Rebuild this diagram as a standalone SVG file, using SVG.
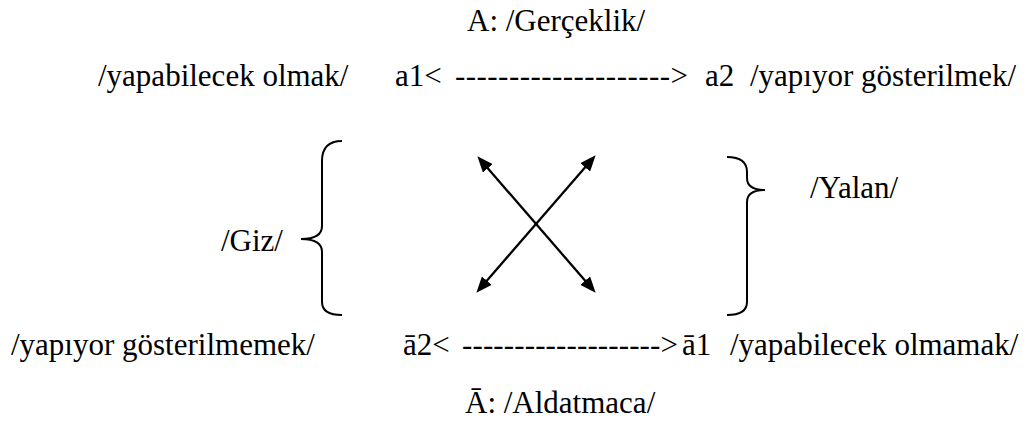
<svg xmlns="http://www.w3.org/2000/svg" width="1030" height="425" viewBox="0 0 1030 425">
<style>
.t{font-family:'Liberation Serif','Times New Roman',serif;font-size:31px;fill:#000}
.br{fill:none;stroke:#000;stroke-width:2}
.ar{fill:none;stroke:#000;stroke-width:2.3;marker-start:url(#ah);marker-end:url(#ah)}
</style>
<defs>
<marker id="ah" viewBox="0 0 16 13" refX="8" refY="6.5" markerWidth="16" markerHeight="13" markerUnits="userSpaceOnUse" orient="auto-start-reverse">
<path d="M0,0 L16,6.5 L0,13 z" fill="#000"/>
</marker>
</defs>
<rect width="1030" height="425" fill="#fff"/>
<g id="top-title"><text class="t" x="467" y="31">A: /Gerçeklik/</text></g>
<g id="a1-label"><text class="t" x="98" y="86">/yapabilecek olmak/</text></g>
<g id="a1"><text class="t" x="395" y="86">a1&lt;</text></g>
<g id="a2"><text class="t" x="705" y="86">a2</text></g>
<g id="a2-label"><text class="t" x="750" y="86">/yapıyor gösterilmek/</text></g>
<g id="giz"><text class="t" x="221" y="251">/Giz/</text></g>
<g id="yalan"><text class="t" x="810" y="198">/Yalan/</text></g>
<g id="na2-label"><text class="t" x="11" y="355">/yapıyor gösterilmemek/</text></g>
<g id="na2"><text class="t" x="403" y="355">ā2&lt;</text></g>
<g id="na1"><text class="t" x="682" y="355">ā1</text></g>
<g id="na1-label"><text class="t" x="730" y="355">/yapabilecek olmamak/</text></g>
<g id="bottom-title"><text class="t" x="465" y="413">Ā: /Aldatmaca/</text></g>
<g id="left-brace"><path class="br" d="M342,141 Q322,141 322,161 L322,226 Q322,239 301,239 Q322,239 322,252 L322,302 Q322,315 342,315"/></g>
<g id="right-brace"><path class="br" d="M727,157 Q747,157 747,172 L747,178 Q747,190 765,190 Q747,190 747,202 L747,302 Q747,315 727,315"/></g>
<g id="connectors">
<text class="t" x="455" y="86" textLength="233" lengthAdjust="spacing">--------------------&gt;</text>
<text class="t" x="462" y="355" textLength="216" lengthAdjust="spacing">-------------------&gt;</text>
<line class="ar" x1="482.6" y1="162.3" x2="590.4" y2="286.7"/>
<line class="ar" x1="590.4" y1="161.3" x2="481.6" y2="286.7"/>
</g>
</svg>
